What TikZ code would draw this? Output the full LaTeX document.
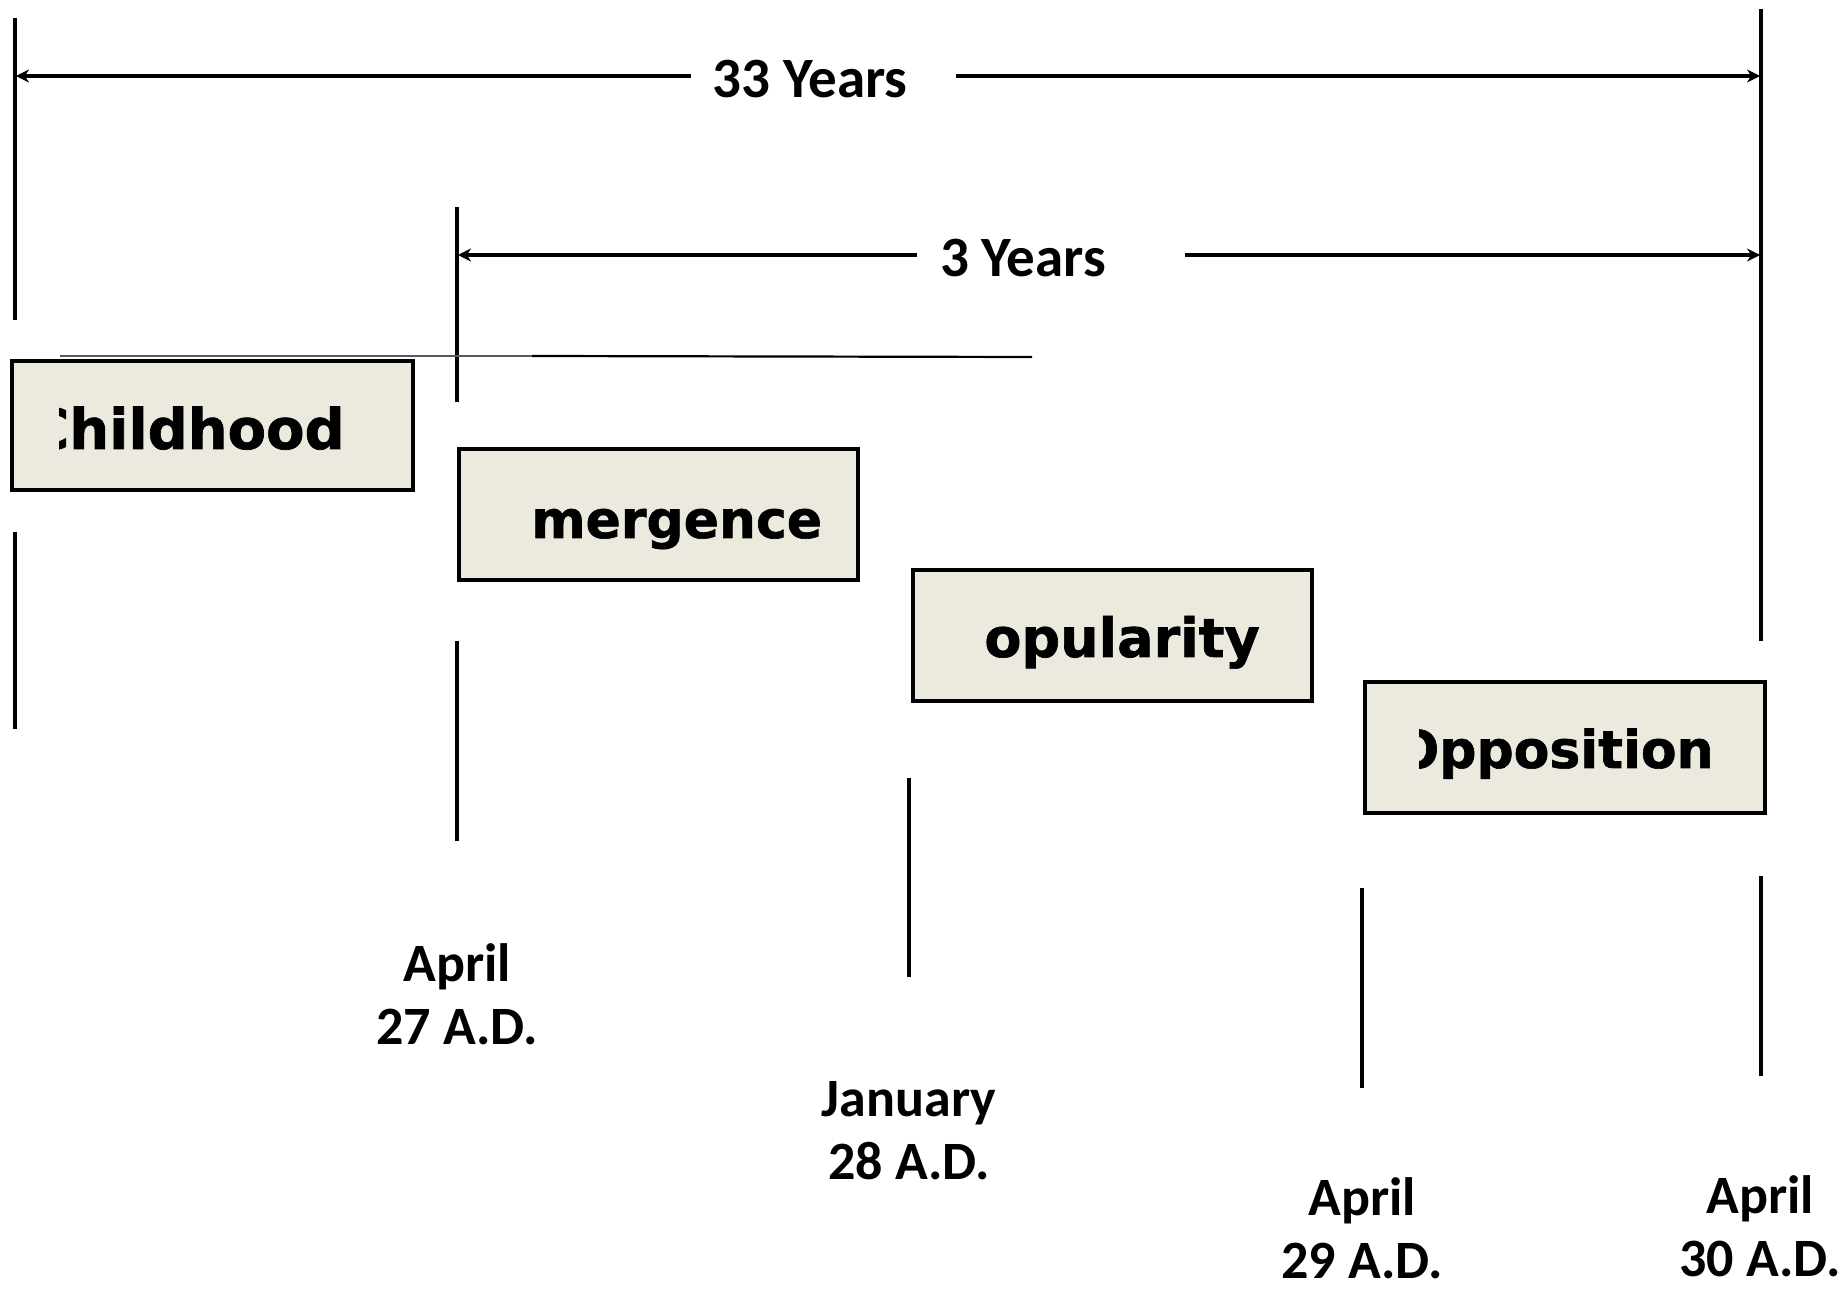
\documentclass[tikz,border=0pt]{standalone}
\usepackage{fontspec}
\newfontfamily\lblfont{Carlito}
\newfontfamily\boxfont[FakeBold=1.2]{DejaVu Sans}
\usetikzlibrary{arrows.meta}
\definecolor{boxfill}{RGB}{236,234,223}
\tikzset{
  vline/.style={line width=1.8pt,black},
  dimarrow/.style={line width=2.1pt,-{Stealth[length=6.5pt,width=6.5pt]}},
  phasebox/.style={draw=black,line width=2.2pt,fill=boxfill},
  phasetext/.style={inner sep=0pt,font=\boxfont\bfseries\fontsize{26}{30}\selectfont},
  lbl/.style={inner sep=0pt,align=center,font=\lblfont\bfseries\fontsize{27}{31.5}\selectfont},
  dimtext/.style={inner sep=0pt,font=\lblfont\bfseries\fontsize{28.5}{33}\selectfont}
}
\begin{document}
\begin{tikzpicture}[x=0.5pt,y=-0.5pt]
\useasboundingbox[fill=white] (0,0) rectangle (1844,1294);

% vertical markers
\coordinate (L1a) at (15,18);   \coordinate (L1b) at (15,320);
\coordinate (L2a) at (15,532);  \coordinate (L2b) at (15,729);
\coordinate (M1a) at (457,207); \coordinate (M1b) at (457,402);
\coordinate (M2a) at (457,641); \coordinate (M2b) at (457,841);
\coordinate (P1a) at (909,778); \coordinate (P1b) at (909,977);
\coordinate (Q1a) at (1362,888);\coordinate (Q1b) at (1362,1088);
\coordinate (R1a) at (1761,9);  \coordinate (R1b) at (1761,641);
\coordinate (R2a) at (1761,876);\coordinate (R2b) at (1761,1076);
\draw[vline] (L1a) -- (L1b);
\draw[vline] (L2a) -- (L2b);
\draw[vline] (M1a) -- (M1b);
\draw[vline] (M2a) -- (M2b);
\draw[vline] (P1a) -- (P1b);
\draw[vline] (Q1a) -- (Q1b);
\draw[vline] (R1a) -- (R1b);
\draw[vline] (R2a) -- (R2b);

% 33 years
\node[dimtext] (t33) at (810,79) {33 Years};
\coordinate (a33L) at (691,76); \coordinate (a33R) at (956,76);
\coordinate (e33L) at (16,76);  \coordinate (e33R) at (1760,76);
\draw[dimarrow] (a33L) -- (e33L);
\draw[dimarrow] (a33R) -- (e33R);

% 3 years
\node[dimtext] (t3) at (1023,258) {3 Years};
\coordinate (a3L) at (917,255); \coordinate (a3R) at (1185,255);
\coordinate (e3L) at (458,255); \coordinate (e3R) at (1760,255);
\draw[dimarrow] (a3L) -- (e3L);
\draw[dimarrow] (a3R) -- (e3R);

% thin line
\coordinate (h1) at (60,356); \coordinate (h2) at (532,356); \coordinate (h3) at (1032,357);
\draw[line width=0.8pt,black!65] (h1) -- (h2);
\draw[line width=1.1pt,black] (h2) -- (h3);

% boxes
\draw[phasebox] (12,361) rectangle (413,490);
\draw[phasebox] (459,449) rectangle (858,580);
\draw[phasebox] (913,570) rectangle (1312,701);
\draw[phasebox] (1365,682) rectangle (1765,813);

\begin{scope}
\clip (59,365) rectangle (409,486);
\node[phasetext,font=\boxfont\bfseries\fontsize{28}{32}\selectfont,anchor=base east] (c1) at (345,449) {Childhood};
\end{scope}
\node[phasetext,anchor=base west] (c2) at (531,538) {mergence};
\node[phasetext,font=\boxfont\bfseries\fontsize{27}{30}\selectfont,anchor=base west] (c3) at (984,657) {opularity};
\begin{scope}
\clip (1419,686) rectangle (1761,809);
\node[phasetext,anchor=base east] (c4) at (1714,768) {Opposition};
\end{scope}

% date labels
\node[lbl] (d1) at (457,994) {April\\27 A.D.};
\node[lbl] (d2) at (909,1131) {January\\28 A.D.};
\node[lbl] (d3) at (1362,1228) {April\\29 A.D.};
\node[lbl] (d4) at (1760,1226) {April\\30 A.D.};
\end{tikzpicture}
\end{document}
